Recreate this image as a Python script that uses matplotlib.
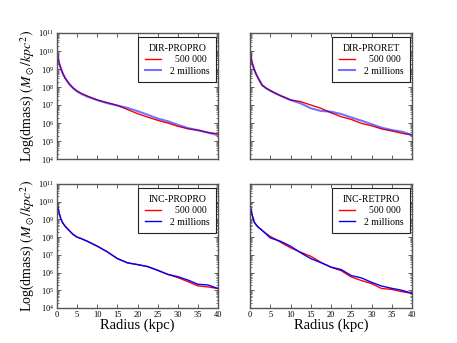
import matplotlib
matplotlib.use('Agg')
import matplotlib.pyplot as plt
import numpy as np
from matplotlib.ticker import LogLocator, NullFormatter, MultipleLocator

plt.rcParams['font.family'] = 'serif'
plt.rcParams['font.serif'] = ['Liberation Serif', 'DejaVu Serif']
plt.rcParams['mathtext.fontset'] = 'stix'

# radius samples (kpc)
radius = [0, 0.25, 0.5, 1, 1.5, 2, 3, 4, 5, 6, 7.5, 10, 12.5, 15, 17.5, 20,
          22.5, 25, 27.5, 30, 32.5, 35, 37.5, 40]

# log10 of surface density
dir_propro_500k = [9.95, 9.6, 9.35, 9.0, 8.72, 8.5, 8.18, 7.95, 7.78, 7.65, 7.5, 7.28,
                   7.13, 6.98, 6.75, 6.52, 6.33, 6.15, 6.0, 5.82, 5.68, 5.6, 5.47, 5.4]
dir_propro_2m = [9.95, 9.6, 9.35, 9.0, 8.72, 8.5, 8.18, 7.93, 7.75, 7.62, 7.47, 7.27,
                 7.1, 6.97, 6.84, 6.66, 6.46, 6.25, 6.1, 5.9, 5.72, 5.6, 5.47, 5.32]

dir_proret_500k = [9.96, 9.6, 9.35, 9.0, 8.72, 8.5, 8.1, 7.93, 7.8, 7.68, 7.52, 7.28,
                   7.19, 7.0, 6.82, 6.57, 6.35, 6.2, 5.98, 5.85, 5.67, 5.56, 5.43, 5.33]
dir_proret_2m = [9.96, 9.6, 9.35, 9.0, 8.72, 8.5, 8.1, 7.93, 7.8, 7.68, 7.52, 7.28,
                 7.09, 6.82, 6.67, 6.63, 6.5, 6.31, 6.13, 5.94, 5.74, 5.61, 5.52, 5.33]

inc_propro_500k = [10.0, 9.65, 9.38, 9.0, 8.78, 8.62, 8.38, 8.15, 8.0, 7.92, 7.77, 7.49,
                   7.17, 6.79, 6.55, 6.45, 6.34, 6.13, 5.9, 5.72, 5.49, 5.25, 5.19, 5.1]
inc_propro_2m = [10.0, 9.65, 9.38, 9.0, 8.78, 8.62, 8.38, 8.15, 8.0, 7.92, 7.77, 7.49,
                 7.17, 6.79, 6.55, 6.45, 6.34, 6.13, 5.9, 5.77, 5.58, 5.34, 5.3, 5.1]

inc_retpro_500k = [9.81, 9.55, 9.28, 8.87, 8.7, 8.57, 8.38, 8.2, 8.04, 7.92, 7.72, 7.4,
                   7.15, 6.92, 6.58, 6.3, 6.11, 5.75, 5.55, 5.38, 5.1, 5.05, 4.92, 4.83]
inc_retpro_2m = [9.81, 9.55, 9.28, 8.87, 8.7, 8.57, 8.38, 8.17, 7.96, 7.88, 7.77, 7.49,
                 7.12, 6.79, 6.56, 6.31, 6.17, 5.83, 5.7, 5.45, 5.24, 5.11, 5.0, 4.83]

titles = ['DIR-PROPRO', 'DIR-PRORET', 'INC-PROPRO', 'INC-RETPRO']
series = [(dir_propro_500k, dir_propro_2m), (dir_proret_500k, dir_proret_2m),
          (inc_propro_500k, inc_propro_2m), (inc_retpro_500k, inc_retpro_2m)]
labels = ['  500 000', '2 millions']

fig = plt.figure(figsize=(4.57, 3.43), dpi=100)
W, H = 457., 343.
boxes = [(57, 33, 218, 159), (250, 33, 412, 159),
         (57, 184, 218, 308), (250, 184, 412, 308)]

for i, (x0, y0, x1, y1) in enumerate(boxes):
    ax = fig.add_axes([x0 / W, 1 - y1 / H, (x1 - x0) / W, (y1 - y0) / H])
    red, blue = series[i]
    top = i < 2
    ax.plot(radius, 10 ** np.array(red), color='red', lw=1.0, label=labels[0])
    if top:
        ax.plot(radius, 10 ** np.array(blue), color='blue', lw=1.5, alpha=0.55, label=labels[1])
    else:
        ax.plot(radius, 10 ** np.array(blue), color='blue', lw=1.0, label=labels[1])
    ax.set_yscale('log')
    ax.set_xlim(0, 40)
    ax.set_ylim(1e4, 1e11)
    ax.xaxis.set_major_locator(MultipleLocator(5))
    ax.yaxis.set_major_locator(LogLocator(base=10, numticks=20))
    ax.yaxis.set_minor_locator(LogLocator(base=10, subs=np.arange(2, 10), numticks=20))
    ax.yaxis.set_minor_formatter(NullFormatter())
    ax.tick_params(which='both', direction='in', top=True, right=True,
                   labelsize=6, color='#444444', pad=2)
    ax.tick_params(which='major', length=3, width=0.6)
    ax.tick_params(which='minor', length=1.5, width=0.5)
    for s in ax.spines.values():
        s.set_color('#555555')
        s.set_linewidth(1.0)
    if top:
        ax.set_xticklabels([])
    else:
        ax.set_xlabel('Radius (kpc)', fontsize=10.5, labelpad=0)
    if i % 2 == 1:
        ax.set_yticklabels([])
    else:
        ax.set_ylabel(r'Log(dmass) $(M_\odot/kpc^2)$', fontsize=10, labelpad=1)
    leg = ax.legend(title=titles[i], loc='upper right',
                    bbox_to_anchor=(1 - 2.0 / (x1 - x0), 1 - 4.0 / (y1 - y0)),
                    borderaxespad=0, fontsize=7, title_fontsize=7,
                    fancybox=False, framealpha=1, edgecolor='#222222',
                    handlelength=1.6, handletextpad=0.9,
                    borderpad=0.7, labelspacing=0.25)
    leg.get_frame().set_linewidth(0.8)

fig.savefig('out.png', dpi=100)
